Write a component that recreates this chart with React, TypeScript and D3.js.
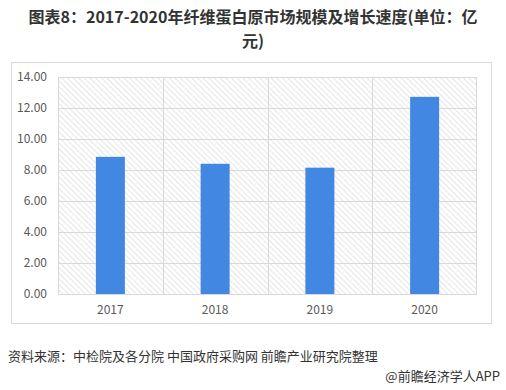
import React from "react";
import * as d3 from "d3";

const categories = ["2017", "2018", "2019", "2020"];
const values = [8.85, 8.4, 8.15, 12.72];
const yTicks = [0, 2, 4, 6, 8, 10, 12, 14];

const W = 506;
const H = 390;
const M = { left: 58, right: 477, top: 77, bottom: 294 };

export default function App() {
  const x = d3.scaleBand<string>().domain(categories).range([M.left, M.right]).paddingInner(0).paddingOuter(0);
  const y = d3.scaleLinear().domain([0, 14]).range([M.bottom, M.top]);
  const bw = x.bandwidth() * 0.277;
  const font = "'Microsoft YaHei', 'Noto Sans CJK SC', 'Noto Sans', sans-serif";
  return (
    <svg width={W} height={H} style={{ position: "absolute", left: 0, top: 0, background: "#fff" }} fontFamily={font}>
      <defs>
        <pattern id="hatch" width="4" height="4" patternUnits="userSpaceOnUse" patternTransform="rotate(-45)">
          <line x1="0" y1="0" x2="0" y2="4" stroke="#d4d4d4" strokeWidth="1.2" />
        </pattern>
      </defs>
      <rect width={W} height={H} fill="#fff" />
      <text x={W / 2} y={23} textAnchor="middle" fontSize={16} fontWeight="bold" fill="#333">
        图表8：2017-2020年纤维蛋白原市场规模及增长速度(单位：亿
      </text>
      <text x={W / 2} y={47} textAnchor="middle" fontSize={16} fontWeight="bold" fill="#333">
        元)
      </text>
      <rect x={11.5} y={62.5} width={480} height={261} fill="none" stroke="#d9d9d9" />
      <rect x={M.left} y={M.top} width={M.right - M.left} height={M.bottom - M.top} fill="url(#hatch)" />
      {yTicks.map((t) => (
        <g key={t}>
          <line x1={M.left} x2={M.right} y1={Math.round(y(t)) + 0.5} y2={Math.round(y(t)) + 0.5} stroke="#d9d9d9" />
          <text x={47} y={y(t) + 4} textAnchor="end" fontSize={12} fill="#595959">
            {t.toFixed(2)}
          </text>
        </g>
      ))}
      {categories.map((c) => (
        <line key={"v" + c} x1={Math.round(x(c)!) + 0.5} x2={Math.round(x(c)!) + 0.5} y1={M.top} y2={M.bottom} stroke="#d9d9d9" />
      ))}
      <line x1={M.right - 0.5} x2={M.right - 0.5} y1={M.top} y2={M.bottom} stroke="#d9d9d9" />
      {categories.map((c, i) => {
        const cx = x(c)! + x.bandwidth() / 2;
        return (
          <g key={c}>
            <rect x={cx - bw / 2} y={y(values[i])} width={bw} height={M.bottom - y(values[i])} fill="#4287e1" />
            <text x={cx} y={314} textAnchor="middle" fontSize={12} fill="#595959">
              {c}
            </text>
          </g>
        );
      })}
      <text x={8} y={361} fontSize={13} fill="#333">
        资料来源：中检院及各分院 中国政府采购网 前瞻产业研究院整理
      </text>
      <text x={500} y={381} textAnchor="end" fontSize={13} fill="#333">
        @前瞻经济学人APP
      </text>
    </svg>
  );
}
